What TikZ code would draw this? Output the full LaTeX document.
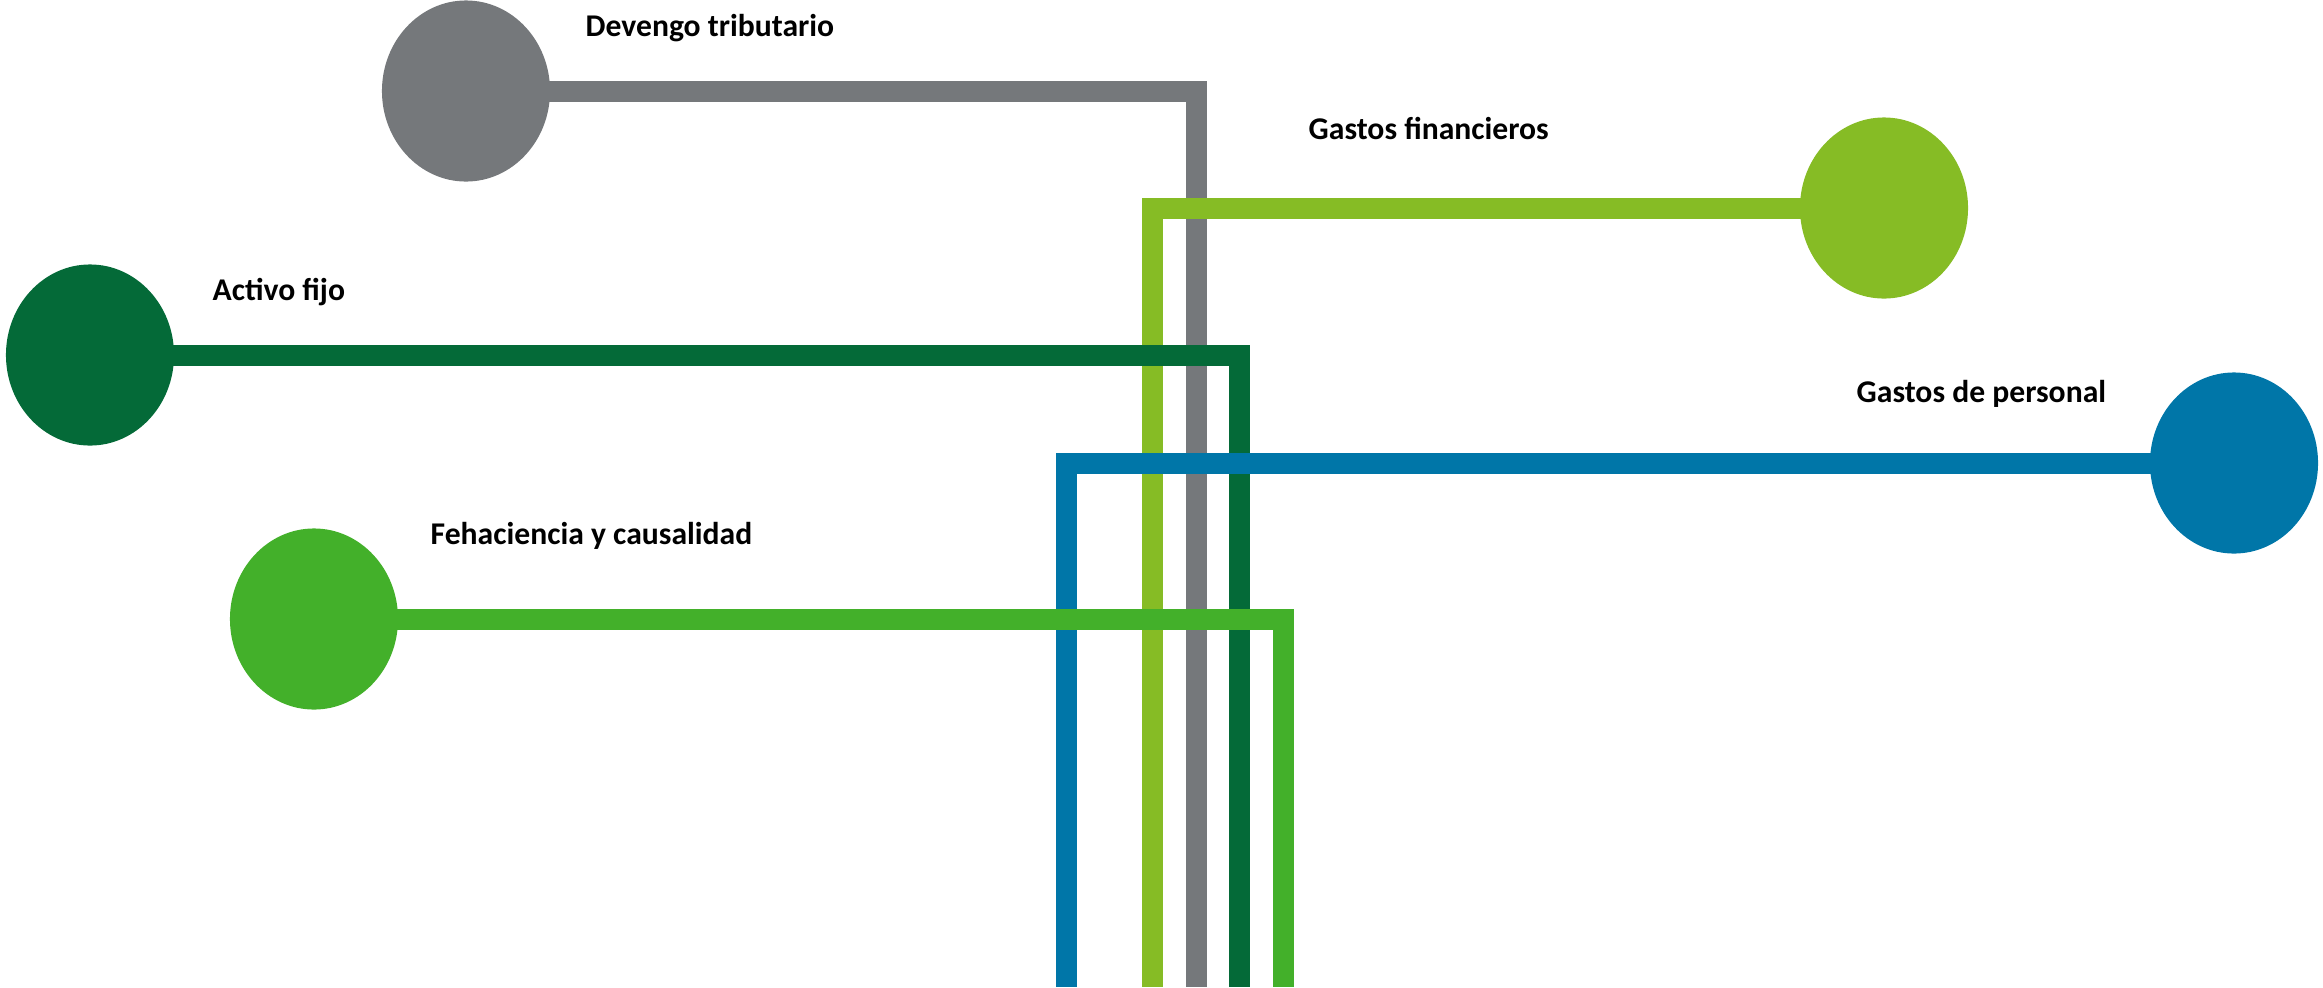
\documentclass[tikz,border=0pt]{standalone}
\usepackage{fontspec}
\setmainfont{Carlito}
\usetikzlibrary{shapes.geometric}
\definecolor{dgray}{HTML}{75787B}
\definecolor{lgreen}{HTML}{86BC25}
\definecolor{dgreen}{HTML}{046A38}
\definecolor{dblue}{HTML}{0076A8}
\definecolor{mgreen}{HTML}{43B02A}
\tikzset{
dot/.style={ellipse,fill=#1,inner sep=0,minimum width=1.68cm,minimum height=1.81cm},
bar/.style={draw=#1,line width=2.1mm,shorten <=-2mm},
lbl/.style={inner sep=0,anchor=base west,font=\bfseries\fontsize{9}{11}\selectfont}
}
\begin{document}
\begin{tikzpicture}[x=0.01cm,y=-0.01cm]
\useasboundingbox(0,0)rectangle(2323,987);
\node[dot=dgray](dev)at(466,91){};
\node[dot=lgreen](fin)at(1884,208){};
\node[dot=dgreen](act)at(90,355){};
\node[dot=dblue](per)at(2234,463){};
\node[dot=mgreen](feh)at(314,619){};
\coordinate(devend)at(1196.5,987);
\coordinate(finend)at(1152.5,987);
\coordinate(actend)at(1239.5,987);
\coordinate(perend)at(1066,987);
\coordinate(fehend)at(1283.5,987);
\draw[bar=dgray](dev.east)-|(devend);
\draw[bar=lgreen](fin.west)-|(finend);
\draw[bar=dgreen](act.east)-|(actend);
\draw[bar=dblue](per.west)-|(perend);
\draw[bar=mgreen](feh.east)-|(fehend);
\node[lbl](devl)at(585,36){Devengo tributario};
\node[lbl](finl)at(1308,139){Gastos financieros};
\node[lbl](actl)at(212,300){Activo fijo};
\node[lbl](perl)at(1856,402){Gastos de personal};
\node[lbl](fehl)at(430,544){Fehaciencia y causalidad};
\end{tikzpicture}
\end{document}
